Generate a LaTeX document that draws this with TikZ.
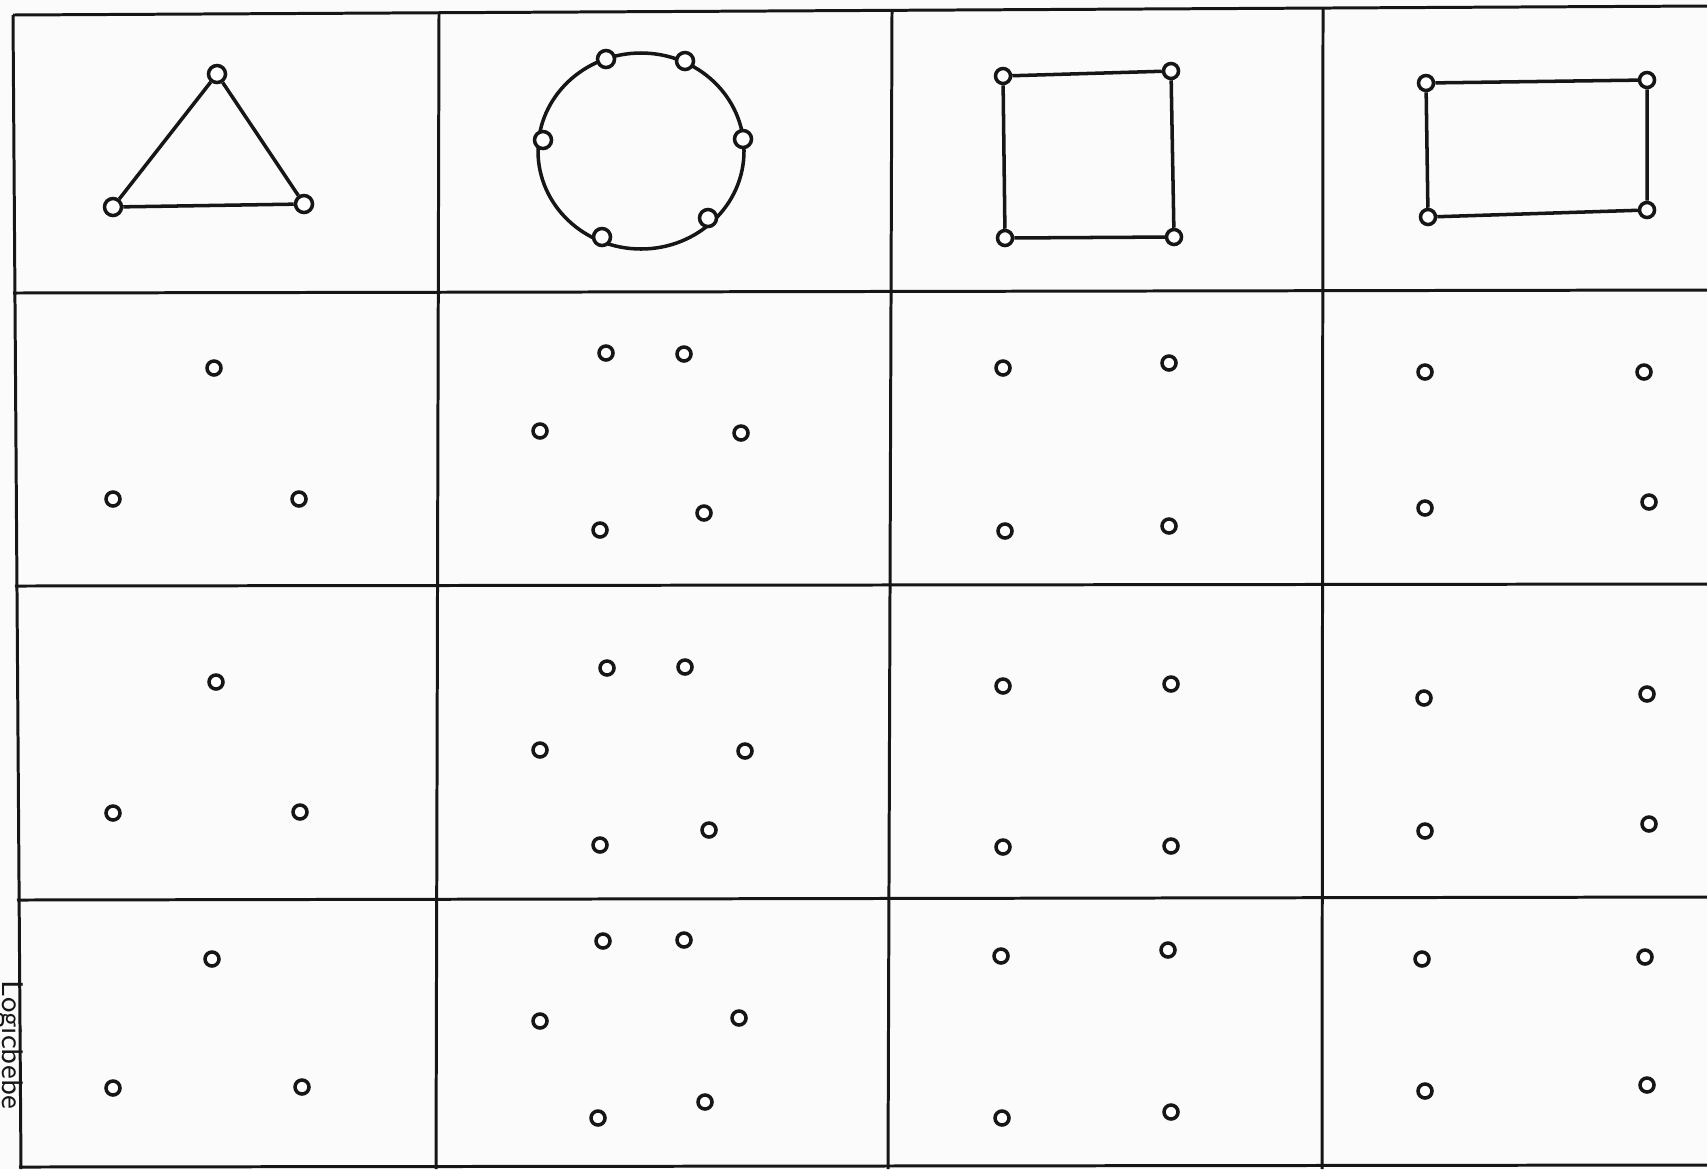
\documentclass[tikz,border=0pt]{standalone}
\usepackage{xcolor}
\usepackage{tikz}
\usetikzlibrary{positioning}
\definecolor{ink}  {RGB}{22, 22, 22}
\definecolor{paper}{RGB}{251,251,251}
\tikzset{
  grd/.style={draw=ink,line width=0.85pt},
  shp/.style={draw=ink,line width=1pt},
  peg/.style={circle,draw=ink,fill=white,line width=1pt,
              inner sep=0pt,minimum size=0.14cm},
  bigpeg/.style={peg,minimum size=0.17cm},
  mark lbl/.style={font=\sffamily\fontsize{8.5}{9}\selectfont,text=ink,
                   rotate=-90,inner sep=0pt},
}
\begin{document}
\begin{tikzpicture}[x=0.01cm,y=-0.01cm]
  \useasboundingbox[fill=paper] (0,0) rectangle (1707,1169);

  % grid
  \draw[grd] (13,15) -- (1707,6);
  \draw[grd] (13,293) -- (1707,290);
  \draw[grd] (15,586) -- (1707,584);
  \draw[grd] (17,900) -- (1707,897);
  \draw[grd] (19,1167) -- (1707,1165);
  \draw[grd] (13,15) -- (21,1169);
  \draw[grd] (439,13) -- (436,1169);
  \draw[grd] (892,10) -- (888,1169);
  \draw[grd] (1323,7) -- (1322,1169);

  % row 1: the shapes
  \node[bigpeg] (triA) at (217,74)  {};
  \node[bigpeg] (triB) at (113,207) {};
  \node[bigpeg] (triC) at (304,204) {};
  \draw[shp] (triA) -- (triB) -- (triC) -- (triA);

  \draw[shp] (641,151) ellipse [x radius=103, y radius=98];
  \node[bigpeg] (cirA) at (606,59)  {};
  \node[bigpeg] (cirB) at (685,61)  {};
  \node[bigpeg] (cirC) at (543,140) {};
  \node[bigpeg] (cirD) at (743,139) {};
  \node[bigpeg] (cirE) at (602,237) {};
  \node[bigpeg] (cirF) at (708,218) {};

  \node[peg,minimum size=0.15cm] (sqA) at (1003,76)  {};
  \node[peg,minimum size=0.15cm] (sqB) at (1171,71)  {};
  \node[peg,minimum size=0.15cm] (sqC) at (1174,237) {};
  \node[peg,minimum size=0.15cm] (sqD) at (1005,238) {};
  \draw[shp] (sqA) -- (sqB) -- (sqC) -- (sqD) -- (sqA);

  \node[peg,minimum size=0.15cm] (recA) at (1426,83)  {};
  \node[peg,minimum size=0.15cm] (recB) at (1647,80)  {};
  \node[peg,minimum size=0.15cm] (recC) at (1647,210) {};
  \node[peg,minimum size=0.15cm] (recD) at (1428,217) {};
  \draw[shp] (recA) -- (recB) -- (recC) -- (recD) -- (recA);

  % row 2
  \node[peg] (tri2A) at (214,368) {};
  \node[peg] (tri2B) at (113,499) {};
  \node[peg] (tri2C) at (299,499) {};
  \node[peg] (cir2A) at (606,353) {};
  \node[peg] (cir2B) at (684,354) {};
  \node[peg] (cir2C) at (540,431) {};
  \node[peg] (cir2D) at (741,433) {};
  \node[peg] (cir2E) at (600,530) {};
  \node[peg] (cir2F) at (704,513) {};
  \node[peg] (sq2A) at (1003,368) {};
  \node[peg] (sq2B) at (1169,363) {};
  \node[peg] (sq2C) at (1169,526) {};
  \node[peg] (sq2D) at (1005,531) {};
  \node[peg] (rec2A) at (1425,372) {};
  \node[peg] (rec2B) at (1644,372) {};
  \node[peg] (rec2C) at (1649,502) {};
  \node[peg] (rec2D) at (1425,508) {};

  % row 3
  \node[peg] (tri3A) at (216,682) {};
  \node[peg] (tri3B) at (113,813) {};
  \node[peg] (tri3C) at (300,812) {};
  \node[peg] (cir3A) at (607,668) {};
  \node[peg] (cir3B) at (685,667) {};
  \node[peg] (cir3C) at (540,750) {};
  \node[peg] (cir3D) at (745,751) {};
  \node[peg] (cir3E) at (600,845) {};
  \node[peg] (cir3F) at (709,830) {};
  \node[peg] (sq3A) at (1003,686) {};
  \node[peg] (sq3B) at (1171,684) {};
  \node[peg] (sq3C) at (1171,846) {};
  \node[peg] (sq3D) at (1003,847) {};
  \node[peg] (rec3A) at (1424,698) {};
  \node[peg] (rec3B) at (1647,694) {};
  \node[peg] (rec3C) at (1649,824) {};
  \node[peg] (rec3D) at (1425,831) {};

  % row 4
  \node[peg] (tri4A) at (212,959)  {};
  \node[peg] (tri4B) at (113,1088) {};
  \node[peg] (tri4C) at (302,1087) {};
  \node[peg] (cir4A) at (603,941)  {};
  \node[peg] (cir4B) at (684,940)  {};
  \node[peg] (cir4C) at (540,1021) {};
  \node[peg] (cir4D) at (739,1018) {};
  \node[peg] (cir4E) at (598,1118) {};
  \node[peg] (cir4F) at (705,1102) {};
  \node[peg] (sq4A) at (1001,956)  {};
  \node[peg] (sq4B) at (1168,950)  {};
  \node[peg] (sq4C) at (1171,1112) {};
  \node[peg] (sq4D) at (1002,1118) {};
  \node[peg] (rec4A) at (1422,959)  {};
  \node[peg] (rec4B) at (1645,957)  {};
  \node[peg] (rec4C) at (1647,1085) {};
  \node[peg] (rec4D) at (1425,1091) {};

  \node[mark lbl] (brand) at (10,1045) {Logicbebe};
\end{tikzpicture}
\end{document}
